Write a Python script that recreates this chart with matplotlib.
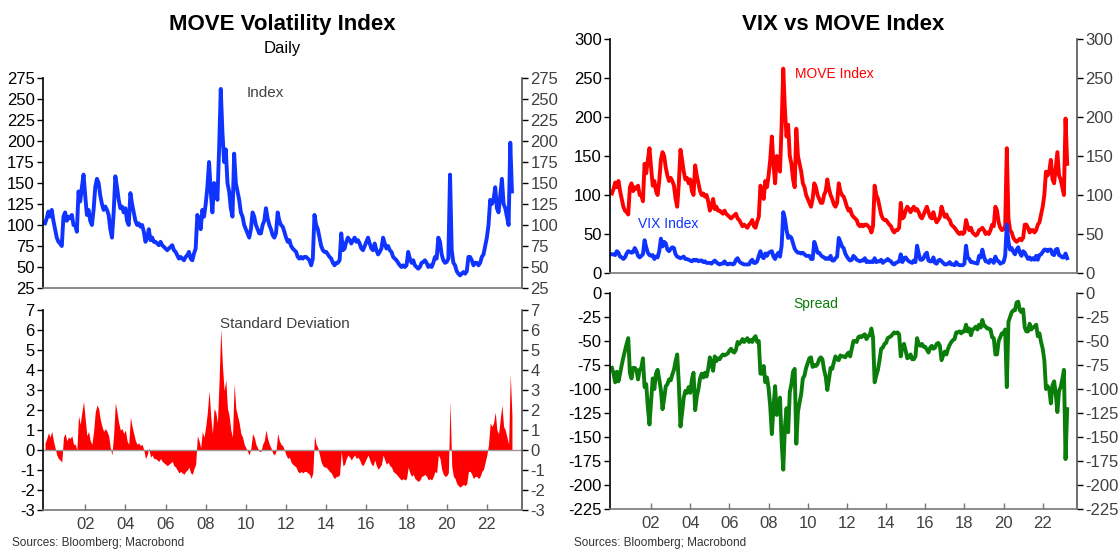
import numpy as np
import matplotlib
matplotlib.use('Agg')
import matplotlib.pyplot as plt

plt.rcParams['font.family'] = ['Liberation Sans', 'DejaVu Sans']
plt.rcParams['axes.unicode_minus'] = False

# monthly readings, Jan 2000 .. Apr 2023
move_index = [
    102, 108, 116, 110, 118, 105, 95, 85, 80, 78, 75, 110,      # 2000
    115, 105, 110, 108, 112, 100, 100, 92, 140, 128, 145, 160,  # 2001
    135, 112, 118, 105, 100, 118, 145, 155, 150, 135, 125, 118, # 2002
    122, 118, 112, 95, 85, 115, 158, 145, 130, 120, 122, 115,   # 2003
    120, 105, 100, 138, 125, 115, 105, 100, 102, 98, 100, 92,   # 2004
    80, 85, 95, 82, 85, 80, 80, 78, 76, 80, 76, 74,             # 2005
    72, 70, 72, 74, 76, 70, 68, 64, 60, 62, 60, 58,             # 2006
    62, 64, 68, 60, 58, 66, 72, 112, 105, 95, 118, 110,         # 2007
    125, 145, 175, 140, 115, 150, 145, 130, 190, 262, 210, 175, # 2008
    190, 150, 140, 120, 110, 185, 150, 140, 130, 115, 110, 100, # 2009
    95, 90, 85, 95, 115, 110, 100, 95, 90, 90, 100, 105,        # 2010
    120, 108, 100, 95, 88, 85, 90, 115, 105, 100, 98, 92,       # 2011
    85, 80, 82, 75, 72, 70, 68, 62, 60, 62, 60, 62,             # 2012
    62, 60, 58, 52, 60, 112, 100, 95, 85, 75, 70, 68,           # 2013
    68, 65, 62, 60, 55, 52, 55, 55, 58, 90, 70, 72,             # 2014
    80, 85, 82, 78, 82, 85, 80, 82, 78, 72, 70, 75,             # 2015
    80, 85, 78, 72, 70, 78, 70, 65, 68, 72, 85, 78,             # 2016
    72, 75, 70, 68, 62, 60, 58, 55, 52, 50, 52, 50,             # 2017
    52, 68, 60, 55, 58, 52, 50, 48, 50, 55, 56, 58,             # 2018
    55, 50, 52, 50, 55, 62, 60, 85, 80, 65, 58, 55,             # 2019
    56, 60, 160, 70, 55, 52, 45, 42, 40, 42, 44, 42,            # 2020
    45, 62, 62, 58, 52, 55, 55, 52, 55, 62, 65, 75,             # 2021
    85, 100, 130, 125, 130, 145, 120, 115, 135, 155, 125, 120,  # 2022
    110, 100, 198, 140,                                         # 2023
]

vix_index = [
    24, 24, 23, 28, 26, 21, 20, 18, 20, 25, 28, 27,   # 2000
    26, 27, 32, 28, 22, 20, 22, 24, 42, 33, 26, 23,   # 2001
    22, 23, 18, 21, 20, 28, 44, 34, 40, 38, 30, 28,   # 2002
    31, 33, 32, 24, 21, 20, 19, 20, 21, 18, 18, 17,   # 2003
    16, 15, 17, 16, 17, 15, 16, 16, 14, 15, 13, 13,   # 2004
    13, 12, 14, 16, 14, 12, 11, 12, 12, 15, 12, 11,   # 2005
    12, 12, 11, 12, 17, 19, 15, 13, 12, 11, 11, 11,   # 2006
    11, 15, 17, 13, 13, 15, 22, 28, 21, 19, 25, 22,   # 2007
    26, 27, 28, 21, 18, 23, 26, 21, 35, 78, 70, 55,   # 2008
    45, 47, 45, 38, 31, 28, 26, 26, 25, 26, 24, 22,   # 2009
    22, 22, 18, 18, 40, 34, 26, 26, 23, 21, 20, 18,   # 2010
    19, 18, 22, 16, 16, 19, 21, 45, 40, 34, 32, 25,   # 2011
    21, 18, 16, 17, 22, 20, 17, 16, 15, 16, 16, 19,   # 2012
    14, 15, 14, 15, 14, 19, 14, 15, 15, 17, 13, 15,   # 2013
    16, 18, 16, 15, 12, 11, 13, 14, 15, 24, 14, 19,   # 2014
    20, 17, 15, 14, 13, 16, 14, 35, 25, 17, 17, 19,   # 2015
    24, 26, 16, 15, 15, 20, 13, 12, 16, 17, 15, 13,   # 2016
    11, 11, 12, 14, 11, 11, 10, 14, 11, 10, 10, 10,   # 2017
    12, 35, 20, 18, 14, 14, 13, 13, 12, 22, 20, 30,   # 2018
    21, 15, 15, 13, 17, 16, 13, 21, 16, 15, 12, 13,   # 2019
    14, 22, 62, 40, 30, 32, 27, 24, 30, 33, 26, 22,   # 2020
    28, 26, 22, 18, 20, 17, 19, 17, 22, 17, 23, 24,   # 2021
    27, 30, 30, 28, 30, 30, 24, 23, 30, 31, 23, 22,   # 2022
    20, 20, 25, 19,                                   # 2023
]

# full-sample mean / std of MOVE
move_mean = 92
move_sd = 28

year_ticks = list(range(2002, 2023, 2))
year_labels = ['%02d' % (y % 100) for y in year_ticks]

move = np.array(move_index, dtype=float)
vix = np.array(vix_index, dtype=float)
t = 2000 + np.arange(len(move)) / 12
spread = vix - move
zscore = (move - move_mean) / move_sd

BLUE = '#1034ff'
RED = '#ff0000'
GREEN = '#0a7d0a'
GREY = '#404040'
LW = 2.8


def style_axes(ax, yticks, bottom):
    ax.set_xlim(1999.9, 2023.75)
    ax.set_ylim(yticks[0], yticks[-1])
    ax.set_yticks(yticks)
    ax.spines['top'].set_visible(False)
    ax.spines['left'].set_color('black')
    ax.spines['right'].set_color('#555555')
    ax.spines['bottom'].set_color('#777777')
    for s in ax.spines.values():
        s.set_linewidth(1.2)
    ax.tick_params(axis='y', left=True, right=True, labelleft=True, labelright=True,
                   direction='out', length=4, width=1, labelsize=12, pad=2)
    for tk in ax.yaxis.get_major_ticks():
        tk.label1.set_color('black')
        tk.label2.set_color(GREY)
        tk.tick2line.set_color('#555555')
    if bottom:
        ax.set_xticks(year_ticks)
        ax.set_xticklabels(year_labels)
        ax.tick_params(axis='x', direction='in', length=4, width=1, color='#777777',
                       labelsize=12, labelcolor=GREY, pad=5)
    else:
        ax.set_xticks([])


fig = plt.figure(figsize=(11.18, 5.51), dpi=100)

# left: MOVE level
ax1 = fig.add_axes([0.0385, 0.4773, 0.4284, 0.3811])
ax1.plot(t, move, color=BLUE, lw=LW)
style_axes(ax1, list(range(25, 276, 25)), False)
ax1.text(0.465, 0.93, 'Index', transform=ax1.transAxes, color=GREY, fontsize=11,
         ha='center', va='center')

# left: standard deviation
ax2 = fig.add_axes([0.0385, 0.0744, 0.4284, 0.3630])
ax2.fill_between(t, zscore, 0, color=RED, lw=0)
ax2.axhline(0, color='#999999', lw=1)
style_axes(ax2, list(range(-3, 8)), True)
ax2.text(0.505, 0.93, 'Standard Deviation', transform=ax2.transAxes, color=GREY,
         fontsize=11, ha='center', va='center')

# right: VIX vs MOVE
ax3 = fig.add_axes([0.5456, 0.5045, 0.4177, 0.4247])
ax3.plot(t, move, color=RED, lw=LW)
ax3.plot(t, vix, color=BLUE, lw=LW)
style_axes(ax3, list(range(0, 301, 50)), False)
ax3.text(0.48, 0.85, 'MOVE Index', transform=ax3.transAxes, color=RED, fontsize=10,
         ha='center', va='center')
ax3.text(0.125, 0.21, 'VIX Index', transform=ax3.transAxes, color=BLUE, fontsize=10,
         ha='center', va='center')

# right: spread
ax4 = fig.add_axes([0.5456, 0.0762, 0.4177, 0.3920])
ax4.plot(t, spread, color=GREEN, lw=LW)
style_axes(ax4, list(range(-225, 1, 25)), True)
ax4.text(0.44, 0.95, 'Spread', transform=ax4.transAxes, color=GREEN, fontsize=10,
         ha='center', va='center')

fig.text(0.2527, 0.955, 'MOVE Volatility Index', ha='center', va='center',
         fontsize=16, fontweight='bold')
fig.text(0.2527, 0.912, 'Daily', ha='center', va='center', fontsize=12)
fig.text(0.7545, 0.955, 'VIX vs MOVE Index', ha='center', va='center',
         fontsize=16, fontweight='bold')

fig.text(0.011, 0.004, 'Sources: Bloomberg; Macrobond', fontsize=8.5, color='#333333',
         ha='left', va='bottom')
fig.text(0.513, 0.004, 'Sources: Bloomberg; Macrobond', fontsize=8.5, color='#333333',
         ha='left', va='bottom')

fig.savefig('out.png', dpi=100)
